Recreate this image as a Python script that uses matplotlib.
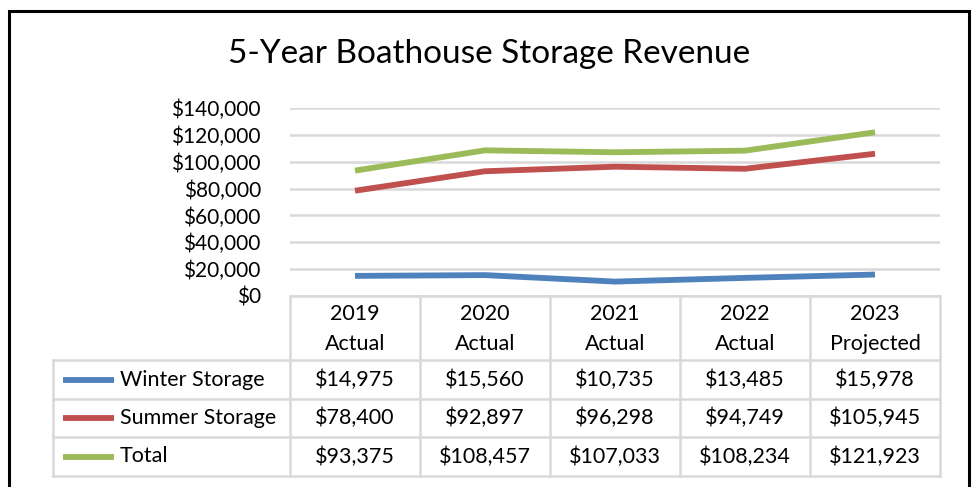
import matplotlib
matplotlib.use("Agg")
import matplotlib.pyplot as plt
from matplotlib.ticker import FuncFormatter

plt.rcParams['font.family'] = ['Lato', 'DejaVu Sans']

# data
years = ['2019', '2020', '2021', '2022', '2023']
kinds = ['Actual', 'Actual', 'Actual', 'Actual', 'Projected']
series_names = ['Winter Storage', 'Summer Storage', 'Total']
winter = [14975, 15560, 10735, 13485, 15978]
summer = [78400, 92897, 96298, 94749, 105945]
total = [93375, 108457, 107033, 108234, 121923]
colors = ['#4F81BD', '#C0504D', '#9BBB59']

W, H = 972, 487
fig = plt.figure(figsize=(W / 100, H / 100), dpi=100)

# overlay in pixel coords for border, title and data table
ov = fig.add_axes([0, 0, 1, 1])
ov.set_xlim(0, W)
ov.set_ylim(H, 0)
ov.axis('off')

# outer chart border
ov.plot([8.5, 8.5, 968.5, 968.5], [H + 5, 10.5, 10.5, H + 5], color='black', lw=2.2, solid_joinstyle='miter')

ov.text(489, 54, '5-Year Boathouse Storage Revenue', fontsize=24, ha='center', va='center', color='black')

# plot area
x0, x1, y_top, y_bot = 290, 940, 108, 296
ax = fig.add_axes([x0 / W, (H - y_bot) / H, (x1 - x0) / W, (y_bot - y_top) / H])
ax.set_xlim(-0.5, len(years) - 0.5)
ax.set_ylim(0, 140000)
ax.set_yticks(range(0, 140001, 20000))
ax.yaxis.set_major_formatter(FuncFormatter(lambda v, p: '${:,.0f}'.format(v)))
ax.set_xticks([])
ax.grid(axis='y', color='#D9D9D9', lw=1.8)
ax.set_axisbelow(True)
for s in ax.spines.values():
    s.set_visible(False)
ax.tick_params(axis='y', length=0, pad=21, labelsize=15)
ax.patch.set_alpha(0)

xs = list(range(len(years)))
for vals, c in zip([winter, summer, total], colors):
    ax.plot(xs, vals, color=c, lw=4.2, solid_capstyle='butt', clip_on=False)

# data table
col_edges = [290 + 130 * i for i in range(6)]
row_edges = [296, 360, 399, 437, 476]
left = 53
gc = '#D9D9D9'
glw = 1.8
ov.plot([col_edges[0], col_edges[-1]], [row_edges[0]] * 2, color=gc, lw=glw)
for y in row_edges[1:]:
    ov.plot([left, col_edges[-1]], [y, y], color=gc, lw=glw)
for x in col_edges:
    ov.plot([x, x], [row_edges[0], row_edges[-1]], color=gc, lw=glw)
ov.plot([left, left], [row_edges[1], row_edges[-1]], color=gc, lw=glw)

fs = 15.5
for i in range(len(years)):
    cx = (col_edges[i] + col_edges[i + 1]) / 2
    ov.text(cx, 314, years[i], ha='center', va='center', fontsize=fs)
    ov.text(cx, 344, kinds[i], ha='center', va='center', fontsize=fs)

for r, (name, vals, c) in enumerate(zip(series_names, [winter, summer, total], colors)):
    cy = (row_edges[r + 1] + row_edges[r + 2]) / 2
    ov.plot([63, 114], [cy, cy], color=c, lw=4.2, solid_capstyle='butt')
    ov.text(120, cy, name, ha='left', va='center', fontsize=fs)
    for i, v in enumerate(vals):
        cx = (col_edges[i] + col_edges[i + 1]) / 2
        ov.text(cx, cy, '${:,}'.format(v), ha='center', va='center', fontsize=fs)

fig.savefig('out.png', dpi=100)
